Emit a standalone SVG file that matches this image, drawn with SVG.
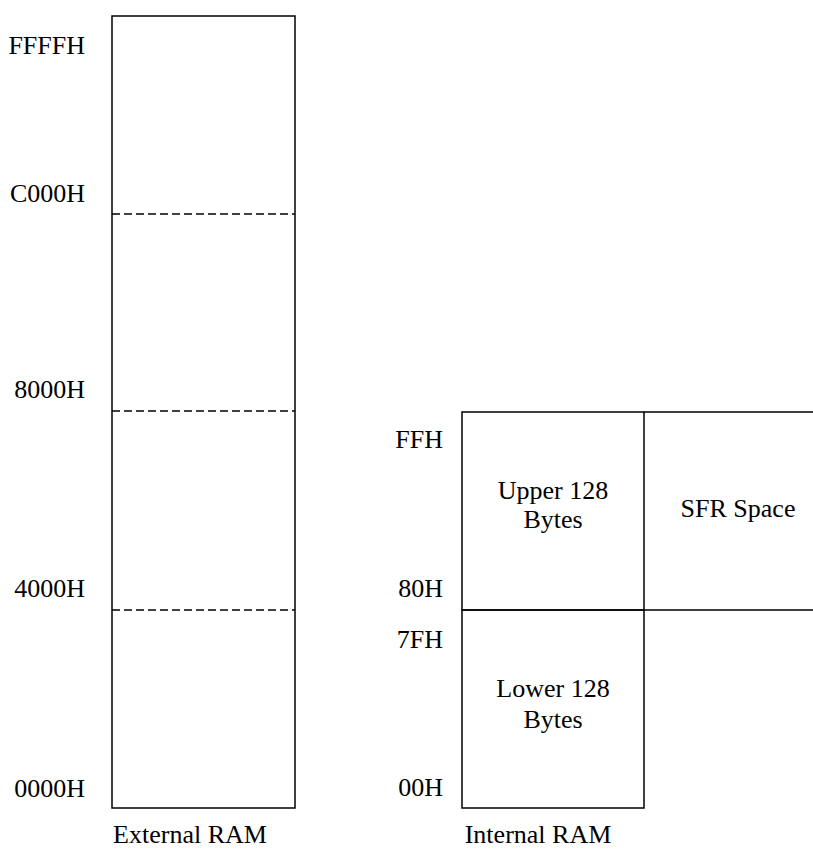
<svg xmlns="http://www.w3.org/2000/svg" width="813" height="849" viewBox="0 0 813 849">
<style>
text{font-family:"Liberation Serif","Times New Roman",serif;font-size:26px;fill:#000}
.r{text-anchor:end}
.c{text-anchor:middle}
.box{fill:none;stroke:#000;stroke-width:1.5}
.dash{stroke:#000;stroke-width:1.5;stroke-dasharray:8 4;fill:none}
.ln{stroke:#000;stroke-width:1.5;fill:none}
</style>
<rect width="813" height="849" fill="#fff"/>
<g id="external-ram">
<rect class="box" x="112" y="16" width="183" height="792"/>
<text class="r" x="85" y="54">FFFFH</text>
<text class="r" x="85" y="202">C000H</text>
<text class="r" x="85" y="398">8000H</text>
<text class="r" x="85" y="597">4000H</text>
<text class="r" x="85" y="797">0000H</text>
<text class="c" x="190" y="843">External RAM</text>
</g>
<g id="connectors">
<line class="dash" x1="112" y1="214" x2="295" y2="214"/>
<line class="dash" x1="112" y1="411" x2="295" y2="411"/>
<line class="dash" x1="112" y1="610" x2="295" y2="610"/>
</g>
<g id="upper-128">
<rect class="box" x="462" y="412" width="182" height="198"/>
<text class="c" x="553" y="499">Upper 128</text>
<text class="c" x="553" y="528">Bytes</text>
</g>
<g id="sfr-space">
<path class="ln" d="M644 412 H813 M644 610 H813"/>
<text class="c" x="738" y="517">SFR Space</text>
</g>
<g id="lower-128">
<rect class="box" x="462" y="610" width="182" height="198"/>
<text class="c" x="553" y="697">Lower 128</text>
<text class="c" x="553" y="728">Bytes</text>
</g>
<g id="internal-labels">
<text class="r" x="443" y="448">FFH</text>
<text class="r" x="443" y="597">80H</text>
<text class="r" x="443" y="648">7FH</text>
<text class="r" x="443" y="796">00H</text>
<text class="c" x="538" y="843">Internal RAM</text>
</g>
</svg>
